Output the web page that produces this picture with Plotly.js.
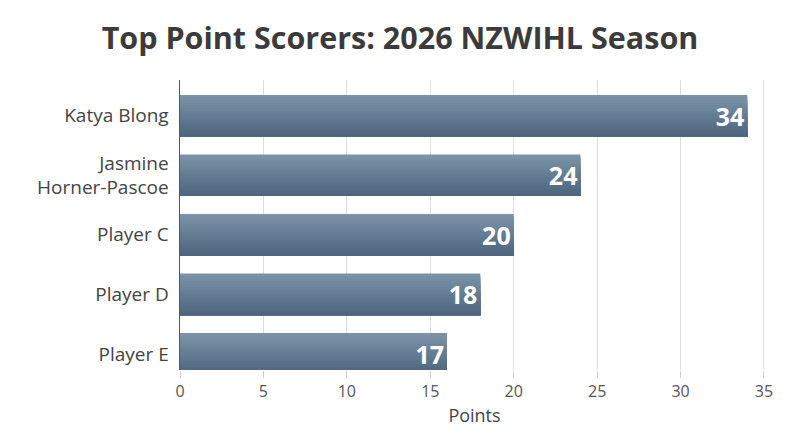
<!DOCTYPE html>
<html>
<head>
<meta charset="utf-8">
<script src="https://cdn.plot.ly/plotly-3.0.1.min.js"></script>
<style>
  html, body { margin: 0; padding: 0; background: #fff; }
  #chart { width: 800px; height: 447px; }
</style>
</head>
<body>
<div id="chart"></div>
<script>
// chart data
var players = ['Katya Blong', 'Jasmine<br>Horner-Pascoe', 'Player C', 'Player D', 'Player E'];
var points = [34, 24, 20, 18, 16];
var pointLabels = ['34', '24', '20', '18', '17'];
var xTicks = [0, 5, 10, 15, 20, 25, 30, 35];

var FONT = '"Open Sans", "Noto Sans", sans-serif';
var BAR_W = 0.7;
var SLICES = 16;

// gradient top -> bottom: each slice runs from its top edge to the bar bottom,
// later slices cover the earlier ones so no seams show
var topCol = [123, 147, 168];
var botCol = [77, 102, 126];

var traces = [];
for (var i = 0; i < SLICES; i++) {
  var t = i / (SLICES - 1);
  var c = topCol.map(function (v, k) { return Math.round(v + (botCol[k] - v) * t); });
  var step = BAR_W / SLICES;
  traces.push({
    type: 'bar',
    orientation: 'h',
    y: players,
    x: points,
    width: BAR_W - i * step,
    offset: -BAR_W / 2 + i * step,
    marker: { color: 'rgb(' + c.join(',') + ')', line: { width: 0 } },
    hoverinfo: 'skip',
    showlegend: false
  });
}

// labels on top
traces.push({
  type: 'bar',
  orientation: 'h',
  y: players,
  x: points,
  width: BAR_W,
  marker: { color: 'rgba(0,0,0,0)', line: { width: 0 } },
  text: pointLabels,
  textposition: 'inside',
  insidetextanchor: 'end',
  textfont: { family: FONT, size: 25, color: '#ffffff', weight: 700 },
  hoverinfo: 'x+y',
  showlegend: false
});

var layout = {
  width: 800,
  height: 447,
  paper_bgcolor: '#ffffff',
  plot_bgcolor: '#ffffff',
  barmode: 'overlay',
  margin: { l: 180, r: 31, t: 80, b: 77 },
  font: { family: FONT, color: '#444' },
  title: {
    text: 'Top Point Scorers: 2026 NZWIHL Season',
    x: 0.5,
    y: 0.915,
    yanchor: 'middle',
    font: { family: FONT, size: 30.5, color: '#3b3b3b', weight: 700 }
  },
  xaxis: {
    range: [0, 35.3],
    tickvals: xTicks,
    showgrid: true,
    gridcolor: '#dedede',
    gridwidth: 1,
    zeroline: false,
    ticks: 'outside',
    ticklen: 7,
    tickcolor: '#d0d0d0',
    tickfont: { family: FONT, size: 16, color: '#555' },
    title: { text: 'Points', standoff: 8, font: { family: FONT, size: 18, color: '#444' } }
  },
  yaxis: {
    type: 'category',
    range: [4.27, -0.6],
    showgrid: false,
    zeroline: false,
    showline: true,
    linecolor: '#555',
    linewidth: 1.5,
    ticks: '',
    ticklabelstandoff: 6,
    tickfont: { family: FONT, size: 19, color: '#444' }
  }
};

Plotly.newPlot('chart', traces, layout, { displayModeBar: false, staticPlot: true });
</script>
</body>
</html>
